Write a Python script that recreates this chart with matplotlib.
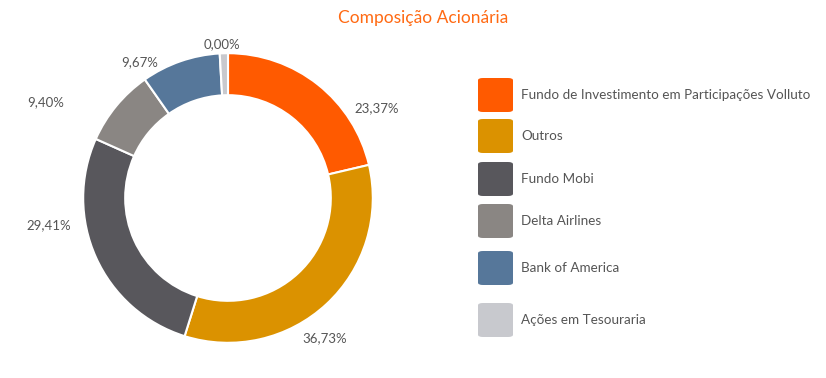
import matplotlib.pyplot as plt
from matplotlib.patches import FancyBboxPatch

# Dados
categorias = ["Fundo de Investimento em Participações Volluto", "Outros", "Fundo Mobi",
              "Delta Airlines", "Bank of America", "Ações em Tesouraria"]
percentuais = ["23,37%", "36,73%", "29,41%", "9,40%", "9,67%", "0,00%"]
fatias = [23.37, 36.73, 29.41, 9.40, 9.67, 1.0]  # tesouraria aparece como uma fatia fina
cores = ["#FF5A00", "#DB9200", "#58575C", "#8A8683", "#56779A", "#C8C9CE"]

plt.rcParams['font.family'] = ['Lato', 'DejaVu Sans']
cinza_txt = "#555555"

fig = plt.figure(figsize=(8.26, 3.78), dpi=100)

# Rosca
ax = fig.add_axes([47 / 826, -1 / 378, 362 / 826, 362 / 378])
wedges, textos = ax.pie(fatias, labels=percentuais, colors=cores, startangle=90,
                        counterclock=False, labeldistance=1.18,
                        wedgeprops=dict(width=0.29, edgecolor="white", linewidth=1.5),
                        textprops=dict(color=cinza_txt, fontsize=9.5))
ax.set_xlim(-1.25, 1.25)
ax.set_ylim(-1.25, 1.25)

# posição dos rótulos como no original (não ficam no meio da fatia)
pos_rotulos = [(1.03, 0.62), (0.67, -0.97), (-1.24, -0.19),
               (-1.26, 0.66), (-0.61, 0.94), (-0.04, 1.06)]
for t, p in zip(textos, pos_rotulos):
    t.set_position(p)
    t.set_ha("center")
    t.set_va("center")

# Título
fig.text(423 / 826, 1 - 18 / 378, "Composição Acionária", color="#FF6A13",
         fontsize=12.5, ha="center", va="center")

# Legenda
linhas_y = [95, 136, 179, 221, 268, 320]
for nome, cor, yc in zip(categorias, cores, linhas_y):
    caixa = FancyBboxPatch((478 / 826, 1 - (yc + 17) / 378), 35 / 826, 34 / 378,
                           boxstyle="round,pad=0,rounding_size=0.006",
                           transform=fig.transFigure, facecolor=cor, edgecolor="none")
    fig.add_artist(caixa)
    fig.text(521 / 826, 1 - yc / 378, nome, color=cinza_txt, fontsize=9.7,
             ha="left", va="center")

plt.savefig("out.png")
plt.close()
